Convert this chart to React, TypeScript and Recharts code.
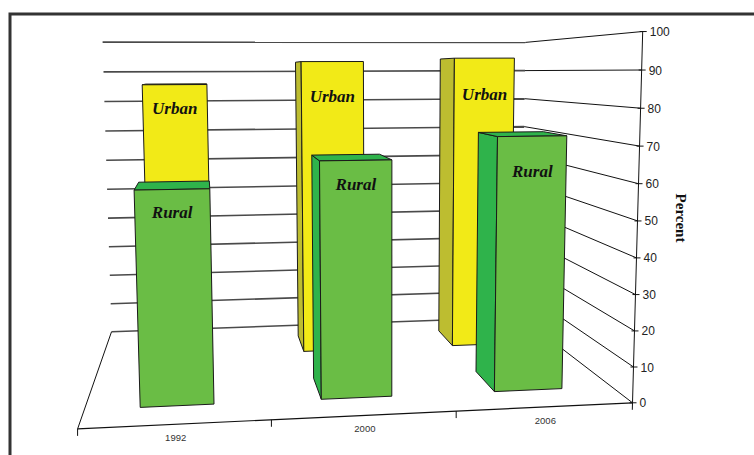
import { BarChart, Bar, XAxis, YAxis } from 'recharts';

const YEARS = ['1992', '2000', '2006'];
const URBAN = [86, 93, 94];
const RURAL = [59, 66, 72];
const PERCENT_TICKS = [0, 10, 20, 30, 40, 50, 60, 70, 80, 90, 100];

const W = 754;
const H = 455;

type Vec3 = [number, number, number];

// Screen positions of a few frame corners (category units, value fraction, depth).
// The camera matrix is fitted from these so walls and bars share one perspective.
const FRAME_FIT: [Vec3, [number, number]][] = [
  [[0, 1, 0], [103, 42]],
  [[0, 0.5, 0], [107, 189]],
  [[0, 0, 0], [111, 332]],
  [[3, 1, 0], [524, 43]],
  [[3, 0, 0], [523, 317]],
  [[3, 1, 1], [644, 31]],
  [[3, 0.5, 1], [638, 221]],
  [[3, 0, 1], [631, 402]],
  [[0, 0, 1], [78, 428]],
  [[1, 0, 1], [272, 421]],
  [[2, 0, 1], [455, 412]],
];

function solve(A: number[][], b: number[]): number[] {
  const n = b.length;
  const m = A.map((row, i) => [...row, b[i]]);
  for (let c = 0; c < n; c++) {
    let p = c;
    for (let r = c + 1; r < n; r++) if (Math.abs(m[r][c]) > Math.abs(m[p][c])) p = r;
    [m[c], m[p]] = [m[p], m[c]];
    for (let r = 0; r < n; r++) {
      if (r === c) continue;
      const f = m[r][c] / m[c][c];
      for (let k = c; k <= n; k++) m[r][k] -= f * m[c][k];
    }
  }
  return m.map((row, i) => row[n] / row[i]);
}

function fitCamera(pairs: [Vec3, [number, number]][]): number[] {
  const rows: number[][] = [];
  const rhs: number[] = [];
  for (const [[X, Y, Z], [u, v]] of pairs) {
    rows.push([X, Y, Z, 1, 0, 0, 0, 0, -u * X, -u * Y, -u * Z]);
    rhs.push(u);
    rows.push([0, 0, 0, 0, X, Y, Z, 1, -v * X, -v * Y, -v * Z]);
    rhs.push(v);
  }
  const AtA = Array.from({ length: 11 }, (_, i) =>
    Array.from({ length: 11 }, (_, j) => rows.reduce((s, r) => s + r[i] * r[j], 0)),
  );
  const Atb = Array.from({ length: 11 }, (_, i) => rows.reduce((s, r, k) => s + r[i] * rhs[k], 0));
  return solve(AtA, Atb);
}

const P = fitCamera(FRAME_FIT);

// camera centre, used to pick which faces of a prism are visible
const EYE = solve(
  [
    [P[0], P[1], P[2]],
    [P[4], P[5], P[6]],
    [P[8], P[9], P[10]],
  ],
  [-P[3], -P[7], -1],
);

function project(X: number, Y: number, Z: number): [number, number] {
  const d = P[8] * X + P[9] * Y + P[10] * Z + 1;
  return [(P[0] * X + P[1] * Y + P[2] * Z + P[3]) / d, (P[4] * X + P[5] * Y + P[6] * Z + P[7]) / d];
}

const pts = (list: Vec3[]) => list.map((p) => project(...p).map((n) => n.toFixed(1)).join(',')).join(' ');

const BAR_DEPTH = 0.2;

// series labels sit at a hand-placed drop (px) below each bar's top edge
const ROWS = {
  urban: { z: 0.25, face: '#F2EA17', side: '#BDBD30', top: '#D8D01A', name: 'Urban', drop: [29, 40, 42] },
  rural: { z: 0.75, face: '#6ABD45', side: '#2FB34B', top: '#2FB34B', name: 'Rural', drop: [29, 30, 41] },
};

type Row = (typeof ROWS)['urban'];

function Prism(props: any) {
  const { x, y, width, height, index, row } = props as {
    x: number; y: number; width: number; height: number; index: number; row: Row;
  };
  if (x == null || !width) return null;
  const n = YEARS.length;
  const x0 = (x / W) * n;
  const x1 = ((x + width) / W) * n;
  const top = (H - y) / H;
  const bot = (H - y - height) / H;
  const z0 = row.z - BAR_DEPTH / 2;
  const z1 = row.z + BAR_DEPTH / 2;
  const stroke = { stroke: '#1a1a1a', strokeWidth: 1, strokeLinejoin: 'round' as const };

  const faces: JSX.Element[] = [];
  if (EYE[0] < x0)
    faces.push(<polygon key="l" points={pts([[x0, bot, z0], [x0, bot, z1], [x0, top, z1], [x0, top, z0]])} fill={row.side} {...stroke} />);
  if (EYE[0] > x1)
    faces.push(<polygon key="r" points={pts([[x1, bot, z0], [x1, bot, z1], [x1, top, z1], [x1, top, z0]])} fill={row.side} {...stroke} />);
  if (EYE[1] > top)
    faces.push(<polygon key="t" points={pts([[x0, top, z0], [x1, top, z0], [x1, top, z1], [x0, top, z1]])} fill={row.top} {...stroke} />);
  faces.push(<polygon key="f" points={pts([[x0, bot, z1], [x1, bot, z1], [x1, top, z1], [x0, top, z1]])} fill={row.face} {...stroke} />);

  const [tx, ty] = project((x0 + x1) / 2, top, z1);
  return (
    <g>
      {faces}
      <text
        x={tx}
        y={ty + row.drop[index ?? 0]}
        textAnchor="middle"
        fontFamily="'Liberation Serif', 'Times New Roman', serif"
        fontStyle="italic"
        fontWeight="bold"
        fontSize={17}
        fill="#111"
      >
        {row.name}
      </text>
    </g>
  );
}

function Frame() {
  const line = (a: [number, number], b: [number, number]) => `M${a[0].toFixed(1)},${a[1].toFixed(1)}L${b[0].toFixed(1)},${b[1].toFixed(1)}`;
  const axisBottom = project(3, 0, 1);
  const axisTop = project(3, 1, 1);
  return (
    <svg width={W} height={H} style={{ position: 'absolute', left: 0, top: 0 }}>
      <path d={`M10,${H} V14 H${W}`} fill="none" stroke="#333" strokeWidth={3} />

      {/* back wall and right side wall gridlines */}
      {PERCENT_TICKS.map((t) => (
        <g key={t}>
          <path d={line(project(0, t / 100, 0), project(3, t / 100, 0))} stroke="#4a4a4a" strokeWidth={1.6} fill="none" />
          <path d={line(project(3, t / 100, 0), project(3, t / 100, 1))} stroke="#111" strokeWidth={1} fill="none" />
        </g>
      ))}

      {/* floor edges */}
      <path d={line(project(0, 0, 0), project(0, 0, 1))} stroke="#111" strokeWidth={1} />
      <path d={line(project(0, 0, 1), project(3, 0, 1))} stroke="#111" strokeWidth={1.2} />
      {YEARS.map((yr, i) => {
        const [tx, ty] = project(i, 0, 1);
        const [lx, ly] = project(i + 0.5, 0, 1);
        return (
          <g key={yr}>
            <path d={`M${tx},${ty}v7`} stroke="#111" strokeWidth={1} />
            <text x={lx} y={ly + 17} textAnchor="middle" fontFamily="'Liberation Sans', Arial, sans-serif" fontSize={9.5} fill="#333">
              {yr}
            </text>
          </g>
        );
      })}

      {/* value axis on the front right edge */}
      <path d={`${line(axisTop, axisBottom)}l-0.2,7`} stroke="#111" strokeWidth={1} fill="none" />
      {PERCENT_TICKS.map((t) => {
        const [px, py] = project(3, t / 100, 1);
        return (
          <g key={t}>
            <path d={`M${px - 3},${py}h7`} stroke="#111" strokeWidth={1} />
            <text x={px + 7} y={py + 4.5} fontFamily="'Liberation Sans', Arial, sans-serif" fontSize={12} fill="#222">
              {t}
            </text>
          </g>
        );
      })}
      <text
        transform="translate(681,218) rotate(90)"
        textAnchor="middle"
        dominantBaseline="central"
        fontFamily="'Liberation Serif', 'Times New Roman', serif"
        fontWeight="bold"
        fontSize={15}
        fill="#111"
      >
        Percent
      </text>
    </svg>
  );
}

const data = YEARS.map((year, i) => ({ year, urban: URBAN[i], rural: RURAL[i] }));

export default function App() {
  return (
    <div style={{ position: 'absolute', left: 0, top: 0, width: W, height: H, background: '#fff', overflow: 'hidden' }}>
      <Frame />
      <div style={{ position: 'absolute', left: 0, top: 0 }}>
        <BarChart width={W} height={H} data={data} margin={{ top: 0, right: 0, bottom: 0, left: 0 }} barCategoryGap="30%">
          <XAxis xAxisId="back" dataKey="year" hide />
          <XAxis xAxisId="front" dataKey="year" hide />
          <YAxis domain={[0, 100]} hide />
          <Bar xAxisId="back" dataKey="urban" isAnimationActive={false} shape={(p: any) => <Prism {...p} row={ROWS.urban} />} />
          <Bar xAxisId="front" dataKey="rural" isAnimationActive={false} shape={(p: any) => <Prism {...p} row={ROWS.rural} />} />
        </BarChart>
      </div>
    </div>
  );
}
